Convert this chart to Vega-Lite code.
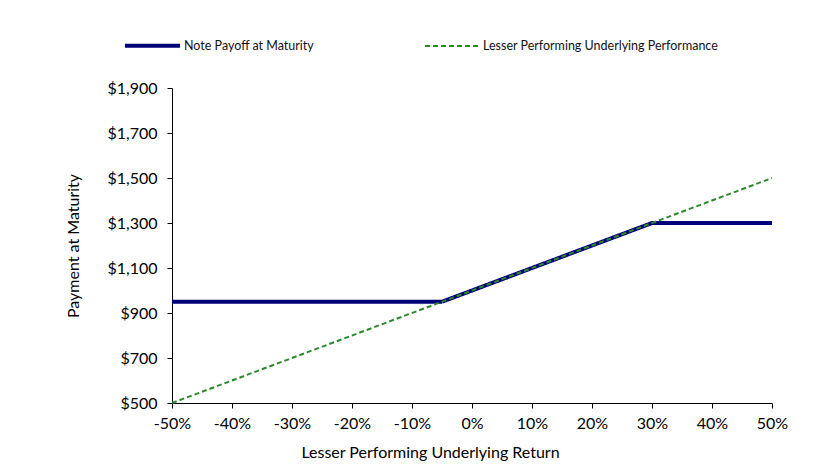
{
  "$schema": "https://vega.github.io/schema/vega-lite/v6.json",
  "width": 600,
  "height": 315,
  "autosize": {"type": "none"},
  "padding": {"left": 172, "top": 88, "right": 58, "bottom": 64},
  "background": "white",
  "config": {
    "view": {"stroke": null},
    "font": "Lato",
    "axis": {"grid": false, "domainColor": "black", "tickColor": "black", "labelColor": "black", "titleColor": "black", "labelFont": "Lato", "titleFont": "Lato", "labelFontSize": 16, "titleFontSize": 16, "titleFontWeight": "normal", "tickSize": 5}
  },
  "data": {
    "values": [
      {"ret": -50, "pay": 950, "series": "Note Payoff at Maturity"},
      {"ret": -5, "pay": 950, "series": "Note Payoff at Maturity"},
      {"ret": 30, "pay": 1300, "series": "Note Payoff at Maturity"},
      {"ret": 50, "pay": 1300, "series": "Note Payoff at Maturity"},
      {"ret": -50, "pay": 500, "series": "Lesser Performing Underlying Performance"},
      {"ret": 50, "pay": 1500, "series": "Lesser Performing Underlying Performance"}
    ]
  },
  "mark": {"type": "line", "clip": false},
  "encoding": {
    "x": {
      "field": "ret", "type": "quantitative",
      "scale": {"domain": [-50, 50], "nice": false},
      "axis": {"values": [-50, -40, -30, -20, -10, 0, 10, 20, 30, 40, 50], "labelExpr": "datum.value + '%'", "title": "Lesser Performing Underlying Return", "labelPadding": 7, "titlePadding": 13, "titleX": 258, "labelFlush": false}
    },
    "y": {
      "field": "pay", "type": "quantitative",
      "scale": {"domain": [500, 1900], "nice": false, "zero": false},
      "axis": {"values": [500, 700, 900, 1100, 1300, 1500, 1700, 1900], "format": "$,.0f", "title": "Payment at Maturity", "labelPadding": 10, "titlePadding": 25}
    },
    "color": {
      "field": "series", "type": "nominal",
      "scale": {"domain": ["Note Payoff at Maturity", "Lesser Performing Underlying Performance"], "range": ["#00007A", "#2A8A2A"]},
      "legend": {"title": null, "orient": "none", "legendX": -49, "legendY": -72, "direction": "horizontal", "symbolType": "stroke", "symbolSize": 3025, "labelFontSize": 12.5, "labelFont": "Lato", "labelColor": "#111", "labelOffset": 2, "labelLimit": 400, "columnPadding": 107}
    },
    "strokeDash": {
      "field": "series", "type": "nominal",
      "scale": {"domain": ["Note Payoff at Maturity", "Lesser Performing Underlying Performance"], "range": [[1, 0], [5, 3]]},
      "legend": {"title": null}
    },
    "strokeWidth": {
      "field": "series", "type": "nominal",
      "scale": {"domain": ["Note Payoff at Maturity", "Lesser Performing Underlying Performance"], "range": [4, 2]},
      "legend": {"title": null}
    }
  }
}
